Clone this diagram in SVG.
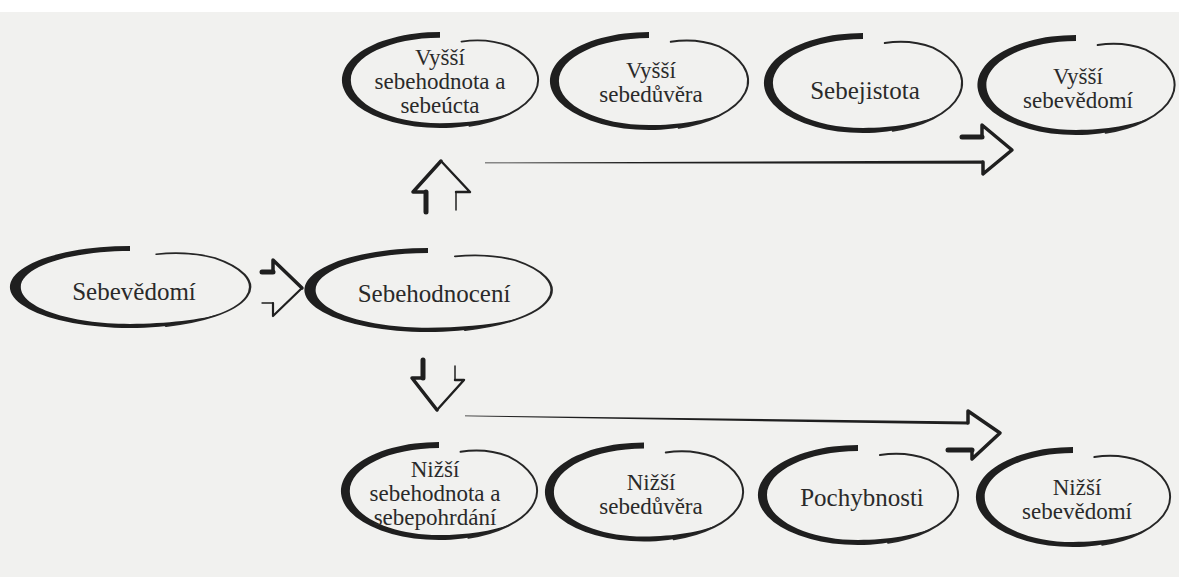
<svg xmlns="http://www.w3.org/2000/svg" width="1179" height="577" viewBox="0 0 1179 577">
  <style>
    .ink { fill: #1f1f1f; }
    .thin { fill: none; stroke: #262626; stroke-width: 2; stroke-linecap: round; }
    .lbl { font-family: "Liberation Serif", "Times New Roman", serif; font-size: 25px; fill: #2a2a2a; text-anchor: middle; }
    .ml { font-size: 23px; }
    .ar { fill: none; stroke: #1f1f1f; stroke-linecap: round; stroke-linejoin: round; }
  </style>
  <defs>
    <g id="brush">
      <path class="ink" d="M0,-50 A100,50 0 1 0 76.6,32.1 C60,40 30,45 0,45 C-50.3,45 -91,24.9 -91,0 C-91,-24.3 -50.3,-44 0,-44 Z"/>
      <path class="thin" d="M30,47.7 A100,50 0 0 0 70.7,-35.4 Q48,-44 22,-40"/>
    </g>
  </defs>

  <rect x="0" y="0" width="1179" height="577" fill="#f1f1ef"/>
  <rect x="0" y="0" width="1179" height="12" fill="#ffffff"/>

  <g id="node-sebevedomi">
    <use href="#brush" transform="translate(130,287) scale(1.2,0.82)"/>
    <text class="lbl" x="134" y="300">Sebevědomí</text>
  </g>
  <g id="node-sebehodnoceni">
    <use href="#brush" transform="translate(428,290) scale(1.235,0.84)"/>
    <text class="lbl" x="434" y="302">Sebehodnocení</text>
  </g>

  <g id="node-vyssi-sebehodnota">
    <use href="#brush" transform="translate(440,80) scale(0.98,0.96)"/>
    <text class="lbl ml" x="440" y="65">Vyšší</text>
    <text class="lbl ml" x="440" y="89">sebehodnota a</text>
    <text class="lbl ml" x="440" y="113">sebeúcta</text>
  </g>
  <g id="node-vyssi-sebeduvera">
    <use href="#brush" transform="translate(649,81) scale(0.99,0.98)"/>
    <text class="lbl ml" x="651" y="78">Vyšší</text>
    <text class="lbl ml" x="651" y="102">sebedůvěra</text>
  </g>
  <g id="node-sebejistota">
    <use href="#brush" transform="translate(863,83) scale(0.99,1)"/>
    <text class="lbl" x="865" y="99">Sebejistota</text>
  </g>
  <g id="node-vyssi-sebevedomi">
    <use href="#brush" transform="translate(1076,85) scale(0.985,1)"/>
    <text class="lbl ml" x="1078" y="84">Vyšší</text>
    <text class="lbl ml" x="1078" y="108">sebevědomí</text>
  </g>

  <g id="node-nizsi-sebehodnota">
    <use href="#brush" transform="translate(439,491) scale(0.98,0.98)"/>
    <text class="lbl ml" x="435" y="477">Nižší</text>
    <text class="lbl ml" x="435" y="501">sebehodnota a</text>
    <text class="lbl ml" x="435" y="525">sebepohrdání</text>
  </g>
  <g id="node-nizsi-sebeduvera">
    <use href="#brush" transform="translate(644,492) scale(0.99,0.99)"/>
    <text class="lbl ml" x="651" y="490">Nižší</text>
    <text class="lbl ml" x="651" y="514">sebedůvěra</text>
  </g>
  <g id="node-pochybnosti">
    <use href="#brush" transform="translate(858,495)"/>
    <text class="lbl" x="862" y="506">Pochybnosti</text>
  </g>
  <g id="node-nizsi-sebevedomi">
    <use href="#brush" transform="translate(1073,497) scale(0.97,1)"/>
    <text class="lbl ml" x="1077" y="495">Nižší</text>
    <text class="lbl ml" x="1077" y="519">sebevědomí</text>
  </g>

  <g id="connectors">
    <!-- Sebevědomí -> Sebehodnocení -->
    <path class="ar" stroke-width="5" d="M262,272 H273"/>
    <path class="ar" stroke-width="3.5" d="M273,272 V260 L302,288"/>
    <path class="ar" stroke-width="2.2" d="M302,288 L273,316 V303"/>
    <path class="ar" stroke-width="1.4" d="M273,303 H262"/>

    <!-- up arrow -->
    <path class="ar" stroke-width="5" d="M426,212 V192"/>
    <path class="ar" stroke-width="3.5" d="M426,192 H413 L441,161"/>
    <path class="ar" stroke-width="2.4" d="M441,161 L470,192 H456"/>
    <path class="ar" stroke-width="1.5" d="M456,192 V210"/>

    <!-- down arrow -->
    <path class="ar" stroke-width="5" d="M423,360 V378"/>
    <path class="ar" stroke-width="3.5" d="M423,378 H412 L437,410"/>
    <path class="ar" stroke-width="2.4" d="M437,410 L464,380 H455"/>
    <path class="ar" stroke-width="1.5" d="M455,380 V366"/>

    <!-- top long arrow -->
    <polygon class="ink" points="485,162.6 983,160.6 983,163.8 485,163.3"/>
    <path class="ar" stroke-width="5" d="M962,137 H982"/>
    <path class="ar" stroke-width="3.5" d="M982,137 V125 L1012,150 L983,174 V162"/>

    <!-- bottom long arrow -->
    <polygon class="ink" points="465,415.6 968,421.4 968,424.6 465,416.3"/>
    <path class="ar" stroke-width="3.5" d="M968,423 V411 L1000,433 L972,459 V450"/>
    <path class="ar" stroke-width="5" d="M972,450 H948"/>
  </g>
</svg>
